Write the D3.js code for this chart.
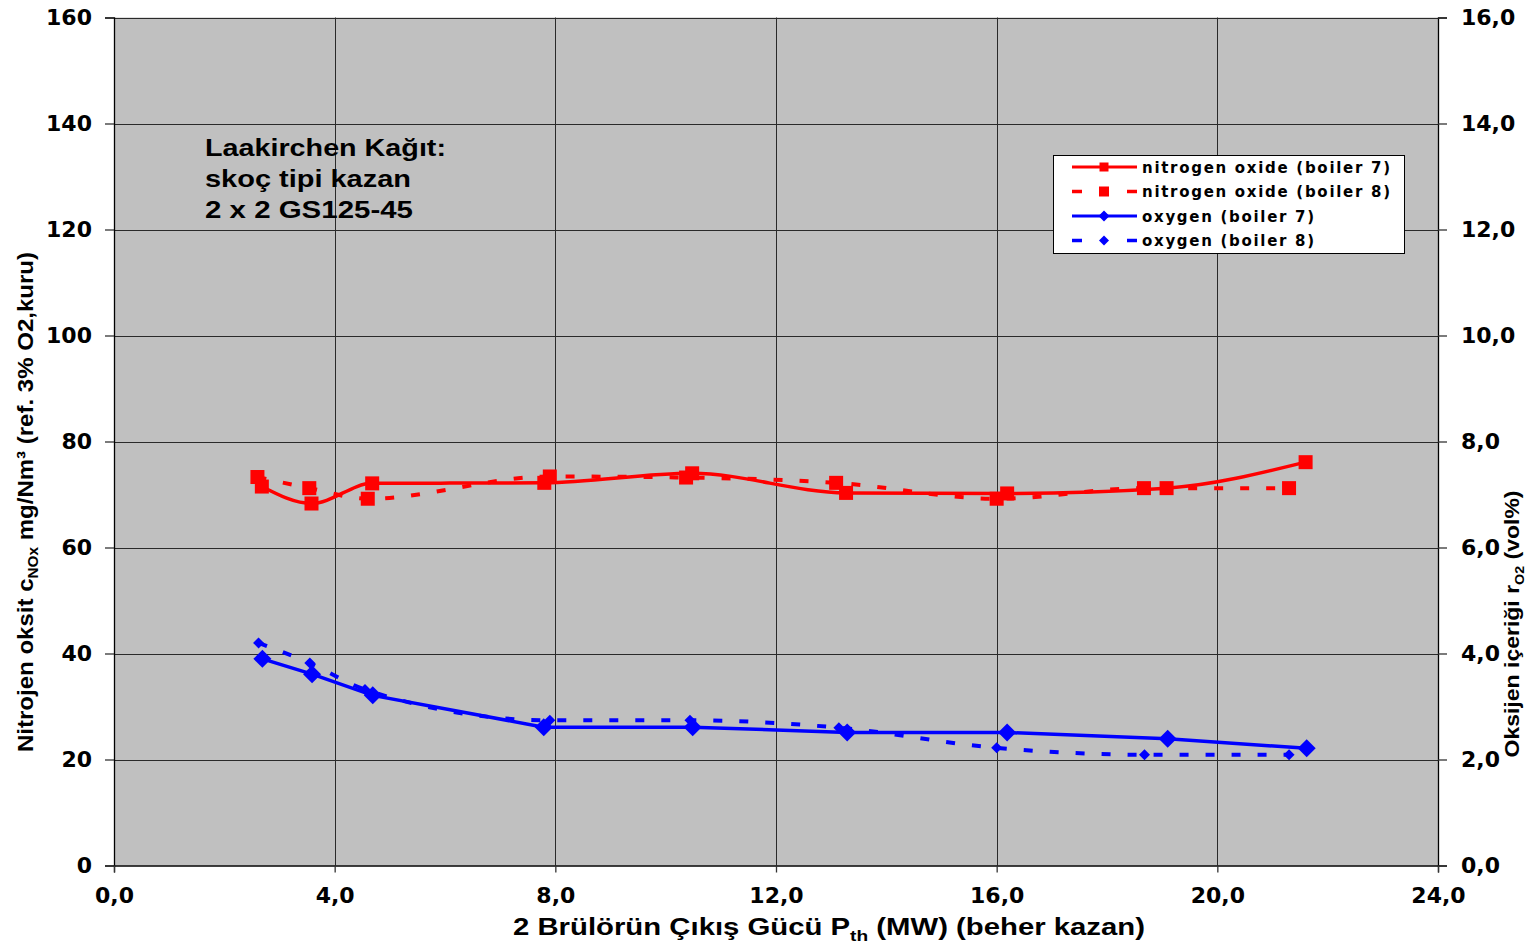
<!DOCTYPE html>
<html>
<head>
<meta charset="utf-8">
<script src="https://cdn.jsdelivr.net/npm/d3@7"></script>
<style>
  html, body { margin: 0; padding: 0; background: #fff; }
  svg { display: block; }
</style>
</head>
<body>
<svg id="chart" width="1532" height="943"></svg>
<script>
// ---------- DATA ----------
const noxB7X = [2.68, 3.58, 4.68, 7.80, 10.48, 13.27, 16.19, 19.08, 21.60];
const noxB7Y = [71.5, 68.3, 72.1, 72.2, 74.0, 70.3, 70.2, 71.2, 76.1];
const noxB8X = [2.60, 3.54, 4.60, 7.90, 10.37, 13.09, 16.00, 18.67, 21.30];
const noxB8Y = [73.3, 71.2, 69.2, 73.4, 73.2, 72.2, 69.2, 71.2, 71.2];
const o2B7X = [2.69, 3.59, 4.69, 7.79, 10.49, 13.29, 16.19, 19.10, 21.62];
const o2B7Y = [3.90, 3.61, 3.21, 2.61, 2.61, 2.51, 2.51, 2.39, 2.21];
const o2B8X = [2.62, 3.55, 4.55, 7.90, 10.44, 13.14, 16.00, 18.68, 21.30];
const o2B8Y = [4.20, 3.82, 3.32, 2.74, 2.74, 2.60, 2.22, 2.09, 2.09];

const xTicks = [0, 4, 8, 12, 16, 20, 24];
const xTickLabels = ["0,0", "4,0", "8,0", "12,0", "16,0", "20,0", "24,0"];
const yLeftTicks = [0, 20, 40, 60, 80, 100, 120, 140, 160];
const yLeftTickLabels = ["0", "20", "40", "60", "80", "100", "120", "140", "160"];
const yRightTicks = [0, 2, 4, 6, 8, 10, 12, 14, 16];
const yRightTickLabels = ["0,0", "2,0", "4,0", "6,0", "8,0", "10,0", "12,0", "14,0", "16,0"];

const legendLabels = ["nitrogen oxide (boiler 7)", "nitrogen oxide (boiler 8)", "oxygen (boiler 7)", "oxygen (boiler 8)"];
const annotationLines = ["Laakirchen Kağıt:", "skoç tipi kazan", "2 x 2 GS125-45"];

// ---------- LAYOUT ----------
const svg = d3.select("#chart");
const L = 114, R = 1438, T = 17.5, B = 865.5;
const x = d3.scaleLinear().domain([0, 24]).range([L, R]);
const yL = d3.scaleLinear().domain([0, 160]).range([B, T]);
const yR = d3.scaleLinear().domain([0, 16]).range([B, T]);

const RED = "#FF0000", BLUE = "#0000FF";
const tickFont = "DejaVu Sans, Verdana, sans-serif";
const arial = "Liberation Sans, Arial, sans-serif";

// plot background
svg.append("rect").attr("x", L).attr("y", T).attr("width", R - L).attr("height", B - T)
  .attr("fill", "#C0C0C0");

// grid
const g = svg.append("g");
g.selectAll("line.hg").data(yLeftTicks.slice(1)).join("line")
  .attr("x1", L).attr("x2", R)
  .attr("y1", d => Math.round(yL(d)) + 0.5).attr("y2", d => Math.round(yL(d)) + 0.5)
  .attr("stroke", "#2a2a2a").attr("stroke-width", 1);
g.selectAll("line.vg").data(xTicks.slice(1, -1)).join("line")
  .attr("y1", T).attr("y2", B)
  .attr("x1", d => Math.round(x(d)) + 0.5).attr("x2", d => Math.round(x(d)) + 0.5)
  .attr("stroke", "#2a2a2a").attr("stroke-width", 1);

// axes
const axL = d3.axisLeft(yL).tickValues(yLeftTicks).tickFormat((d, i) => yLeftTickLabels[i]).tickSizeOuter(0).tickSize(9).tickPadding(13);
const axR = d3.axisRight(yR).tickValues(yRightTicks).tickFormat((d, i) => yRightTickLabels[i]).tickSizeOuter(0).tickSize(9).tickPadding(14);
const axB = d3.axisBottom(x).tickValues(xTicks).tickFormat((d, i) => xTickLabels[i]).tickSizeOuter(0).tickSize(7).tickPadding(15);

function styleAxis(sel) {
  sel.select(".domain").attr("stroke", "#000").attr("stroke-width", 1.3);
  sel.selectAll(".tick line").attr("stroke", "#333").attr("stroke-width", 1.3);
  sel.selectAll(".tick text").attr("font-family", tickFont).attr("font-weight", "bold")
    .attr("font-size", "22px").attr("fill", "#000");
}
svg.append("g").attr("transform", `translate(${L},0)`).call(axL).call(styleAxis);
svg.append("g").attr("transform", `translate(${R},0)`).call(axR).call(styleAxis);
svg.append("g").attr("transform", `translate(0,${B})`).call(axB).call(styleAxis);

// ---------- SERIES ----------
const smooth = d3.curveMonotoneX;
function lineFor(xs, ys, ys_scale, curve) {
  const pts = xs.map((v, i) => [x(v), ys_scale(ys[i])]);
  return d3.line().curve(curve)(pts);
}
const dash = "9,17";

svg.append("path").attr("d", lineFor(noxB8X, noxB8Y, yL, smooth))
  .attr("fill", "none").attr("stroke", RED).attr("stroke-width", 4).attr("stroke-dasharray", dash);
svg.append("path").attr("d", lineFor(noxB7X, noxB7Y, yL, smooth))
  .attr("fill", "none").attr("stroke", RED).attr("stroke-width", 3.5);
svg.append("path").attr("d", lineFor(o2B8X, o2B8Y, yR, smooth))
  .attr("fill", "none").attr("stroke", BLUE).attr("stroke-width", 4).attr("stroke-dasharray", dash);
svg.append("path").attr("d", lineFor(o2B7X, o2B7Y, yR, d3.curveLinear))
  .attr("fill", "none").attr("stroke", BLUE).attr("stroke-width", 3.5);

// markers
function squares(xs, ys, scale, size) {
  svg.append("g").selectAll("rect").data(xs).join("rect")
    .attr("x", (d) => x(d) - size / 2).attr("y", (d, i) => scale(ys[i]) - size / 2)
    .attr("width", size).attr("height", size).attr("fill", RED);
}
function diamonds(xs, ys, scale, size) {
  svg.append("g").selectAll("path").data(xs).join("path")
    .attr("d", (d, i) => {
      const cx = x(d), cy = scale(ys[i]), h = size / 2;
      return `M${cx},${cy - h}L${cx + h},${cy}L${cx},${cy + h}L${cx - h},${cy}Z`;
    })
    .attr("fill", BLUE);
}
squares(noxB8X, noxB8Y, yL, 14);
squares(noxB7X, noxB7Y, yL, 14);
diamonds(o2B8X, o2B8Y, yR, 11);
diamonds(o2B7X, o2B7Y, yR, 18);

// ---------- ANNOTATION ----------
const annWidths = [241, 206, 208];
annotationLines.forEach((t, i) => {
  svg.append("text").attr("x", 205).attr("y", 156 + i * 31)
    .attr("font-family", arial).attr("font-weight", "bold")
    .attr("font-size", "23.5px").attr("fill", "#000")
    .attr("textLength", annWidths[i]).attr("lengthAdjust", "spacingAndGlyphs")
    .text(t);
});

// ---------- LEGEND ----------
const lg = svg.append("g");
lg.append("rect").attr("x", 1053.5).attr("y", 155.5).attr("width", 351).attr("height", 98)
  .attr("fill", "#fff").attr("stroke", "#000").attr("stroke-width", 1);
const legendStyles = [
  { color: RED, dashed: false, marker: "sq", ms: 9 },
  { color: RED, dashed: true, marker: "sq", ms: 10 },
  { color: BLUE, dashed: false, marker: "di", ms: 11 },
  { color: BLUE, dashed: true, marker: "di", ms: 10 }
];
const legWidths = [248, 248, 172, 172];
legendLabels.forEach((lab, i) => {
  const cy = 167 + i * 24.5;
  const st = legendStyles[i];
  if (st.dashed) {
    lg.append("line").attr("x1", 1072).attr("x2", 1082).attr("y1", cy).attr("y2", cy)
      .attr("stroke", st.color).attr("stroke-width", 3.5);
    lg.append("line").attr("x1", 1127).attr("x2", 1137).attr("y1", cy).attr("y2", cy)
      .attr("stroke", st.color).attr("stroke-width", 3.5);
  } else {
    lg.append("line").attr("x1", 1072).attr("x2", 1137).attr("y1", cy).attr("y2", cy)
      .attr("stroke", st.color).attr("stroke-width", 3);
  }
  const h = st.ms / 2, cx = 1104;
  if (st.marker === "sq") {
    lg.append("rect").attr("x", cx - h).attr("y", cy - h).attr("width", st.ms).attr("height", st.ms).attr("fill", st.color);
  } else {
    lg.append("path").attr("d", `M${cx},${cy - h}L${cx + h},${cy}L${cx},${cy + h}L${cx - h},${cy}Z`).attr("fill", st.color);
  }
  lg.append("text").attr("x", 1142).attr("y", cy + 5.5)
    .attr("font-family", tickFont).attr("font-weight", "bold")
    .attr("font-size", "15px").attr("fill", "#000")
    .attr("textLength", legWidths[i]).attr("lengthAdjust", "spacing")
    .text(lab);
});

// ---------- AXIS TITLES ----------
const xt = svg.append("text").attr("x", 829).attr("y", 935).attr("text-anchor", "middle")
  .attr("font-family", arial).attr("font-weight", "bold")
  .attr("font-size", "23px").attr("fill", "#000")
  .attr("textLength", 632).attr("lengthAdjust", "spacingAndGlyphs");
xt.append("tspan").text("2 Brülörün Çıkış Gücü P");
xt.append("tspan").attr("font-size", "15px").attr("dy", 6).text("th");
xt.append("tspan").attr("dy", -6).text(" (MW) (beher kazan)");

const ylt = svg.append("text").attr("transform", "translate(33,502) rotate(-90)")
  .attr("text-anchor", "middle")
  .attr("font-family", arial).attr("font-weight", "bold")
  .attr("font-size", "22px").attr("fill", "#000")
  .attr("textLength", 500).attr("lengthAdjust", "spacingAndGlyphs");
ylt.append("tspan").text("Nitrojen oksit c");
ylt.append("tspan").attr("font-size", "14px").attr("dy", 5).text("NOx");
ylt.append("tspan").attr("dy", -5).text(" mg/Nm³ (ref. 3% O2,kuru)");

const yrt = svg.append("text").attr("transform", "translate(1519,624) rotate(-90)")
  .attr("text-anchor", "middle")
  .attr("font-family", arial).attr("font-weight", "bold")
  .attr("font-size", "21px").attr("fill", "#000")
  .attr("textLength", 267).attr("lengthAdjust", "spacingAndGlyphs");
yrt.append("tspan").text("Oksijen içeriği  r");
yrt.append("tspan").attr("font-size", "13px").attr("dy", 5).text("O2");
yrt.append("tspan").attr("dy", -5).text(" (vol%)");
</script>
</body>
</html>
